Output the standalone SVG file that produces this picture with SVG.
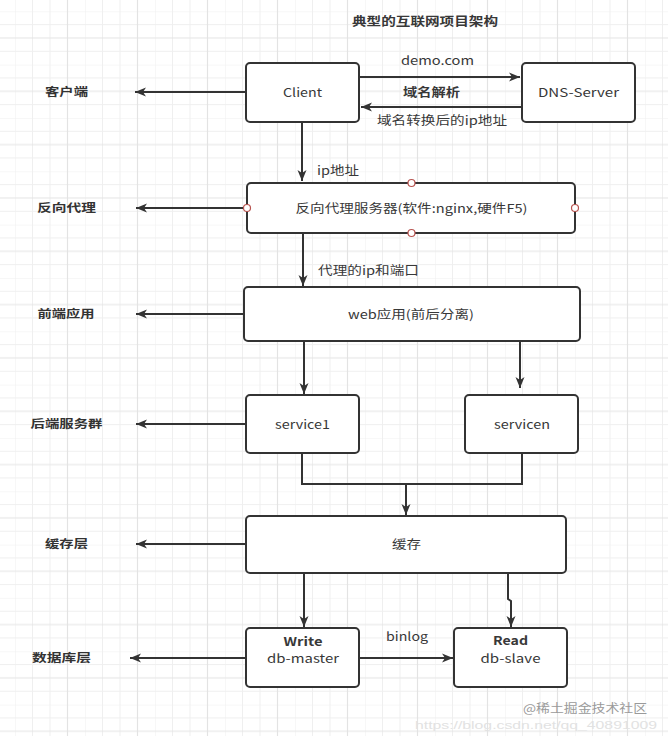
<svg xmlns="http://www.w3.org/2000/svg" width="668" height="736" viewBox="0 0 668 736">
<defs>
<pattern id="grid" patternUnits="userSpaceOnUse" width="70" height="53.33" patternTransform="translate(15,11.3)">
<path d="M0,0V53.33M17.5,0V53.33M35,0V53.33M0,0H70M0,13.33H70M0,40H70" stroke="#efefef" stroke-width="1" fill="none"/>
<path d="M52.5,0V53.33M0,26.67H70" stroke="#e3e3e3" stroke-width="1.2" fill="none"/>
</pattern>
<marker id="arr" markerUnits="userSpaceOnUse" markerWidth="12" markerHeight="10" refX="11" refY="5" orient="auto">
<path d="M0,0.5 L11,5 L0,9.5 L3,5 Z" fill="#333"/>
</marker>
<style>
.box{fill:#fff;stroke:#333;stroke-width:2}
.ln{fill:none;stroke:#333;stroke-width:2}
.t{font-family:"Noto Sans CJK SC","Liberation Sans",sans-serif;font-size:12px;fill:#383838;text-anchor:middle}
.b{font-weight:bold}
.lab{font-family:"Noto Sans CJK SC","Liberation Sans",sans-serif;font-size:11.5px;font-weight:bold;fill:#333;text-anchor:middle}
.pt{fill:#fff;stroke:#b85450;stroke-width:1.2}
</style>
</defs>
<rect width="668" height="736" fill="#fff"/>
<rect width="668" height="736" fill="url(#grid)"/>

<text class="t b" x="425" y="26" textLength="146" lengthAdjust="spacingAndGlyphs">典型的互联网项目架构</text>

<g id="connectors">
<path class="ln" marker-end="url(#arr)" d="M359,77 L520,77"/>
<path class="ln" marker-end="url(#arr)" d="M522,107 L361,107"/>
<path class="ln" marker-end="url(#arr)" d="M246,92 L135,92"/>
<path class="ln" marker-end="url(#arr)" d="M302,122 L302,181"/>
<path class="ln" marker-end="url(#arr)" d="M247,208 L136,208"/>
<path class="ln" marker-end="url(#arr)" d="M303,233 L303,286"/>
<path class="ln" marker-end="url(#arr)" d="M244,314 L136,314"/>
<path class="ln" marker-end="url(#arr)" d="M304,341 L304,394"/>
<path class="ln" marker-end="url(#arr)" d="M520,341 L520,388"/>
<path class="ln" marker-end="url(#arr)" d="M246,424 L136,424"/>
<path class="ln" d="M302,453 L302,484 L522,484 L522,453"/>
<path class="ln" marker-end="url(#arr)" d="M406,484 L406,515"/>
<path class="ln" marker-end="url(#arr)" d="M246,544 L136,544"/>
<path class="ln" marker-end="url(#arr)" d="M304,573 L304,627"/>
<path class="ln" marker-end="url(#arr)" d="M508,573 L508,599 L511,601 L511,627"/>
<path class="ln" marker-end="url(#arr)" d="M246,658 L130,658"/>
<path class="ln" marker-end="url(#arr)" d="M359,658 L453,658"/>
<text class="t" x="437.5" y="65" textLength="73" lengthAdjust="spacingAndGlyphs">demo.com</text>
<text class="t b" x="431.5" y="97" textLength="57" lengthAdjust="spacingAndGlyphs">域名解析</text>
<text class="t" x="442" y="125" textLength="130" lengthAdjust="spacingAndGlyphs">域名转换后的ip地址</text>
<text class="t" x="338" y="175" textLength="42" lengthAdjust="spacingAndGlyphs">ip地址</text>
<text class="t" x="368.5" y="275" textLength="101" lengthAdjust="spacingAndGlyphs">代理的ip和端口</text>
<text class="t" x="407" y="641" textLength="42" lengthAdjust="spacingAndGlyphs">binlog</text>
</g>

<g id="layer-labels">
<text class="lab" x="66.5" y="96" textLength="43" lengthAdjust="spacingAndGlyphs">客户端</text>
<text class="lab" x="66.5" y="212" textLength="59" lengthAdjust="spacingAndGlyphs">反向代理</text>
<text class="lab" x="66" y="318" textLength="57" lengthAdjust="spacingAndGlyphs">前端应用</text>
<text class="lab" x="66.5" y="428" textLength="72" lengthAdjust="spacingAndGlyphs">后端服务群</text>
<text class="lab" x="66.5" y="548" textLength="43" lengthAdjust="spacingAndGlyphs">缓存层</text>
<text class="lab" x="61.5" y="662" textLength="59" lengthAdjust="spacingAndGlyphs">数据库层</text>
</g>

<g id="client">
<rect class="box" x="246" y="63" width="113" height="59" rx="4"/>
<text class="t" x="302.5" y="97" textLength="39" lengthAdjust="spacingAndGlyphs">Client</text>
</g>
<g id="dns-server">
<rect class="box" x="522" y="63" width="113" height="59" rx="4"/>
<text class="t" x="578.5" y="97" textLength="81" lengthAdjust="spacingAndGlyphs">DNS-Server</text>
</g>
<g id="reverse-proxy">
<rect class="box" x="247" y="183" width="328" height="50" rx="4"/>
<text class="t" x="411.5" y="213" textLength="232" lengthAdjust="spacingAndGlyphs">反向代理服务器(软件:nginx,硬件F5)</text>
<circle class="pt" cx="247" cy="208" r="3.5"/>
<circle class="pt" cx="575" cy="208" r="3.5"/>
<circle class="pt" cx="411.5" cy="183" r="3.5"/>
<circle class="pt" cx="411.5" cy="233" r="3.5"/>
</g>
<g id="web-app">
<rect class="box" x="244" y="287" width="336" height="54" rx="4"/>
<text class="t" x="411" y="319" textLength="126" lengthAdjust="spacingAndGlyphs">web应用(前后分离)</text>
</g>
<g id="service1">
<rect class="box" x="246" y="395" width="113" height="58" rx="4"/>
<text class="t" x="302.5" y="429" textLength="55" lengthAdjust="spacingAndGlyphs">service1</text>
</g>
<g id="servicen">
<rect class="box" x="465" y="395" width="113" height="58" rx="4"/>
<text class="t" x="522" y="429" textLength="56" lengthAdjust="spacingAndGlyphs">servicen</text>
</g>
<g id="cache">
<rect class="box" x="246" y="516" width="320" height="57" rx="4"/>
<text class="t" x="406.5" y="549" textLength="29" lengthAdjust="spacingAndGlyphs">缓存</text>
</g>
<g id="db-master">
<rect class="box" x="246" y="628" width="113" height="59" rx="4"/>
<text class="t b" x="303" y="646" textLength="39" lengthAdjust="spacingAndGlyphs">Write</text>
<text class="t" x="303" y="663" textLength="72" lengthAdjust="spacingAndGlyphs">db-master</text>
</g>
<g id="db-slave">
<rect class="box" x="454" y="628" width="113" height="59" rx="4"/>
<text class="t b" x="510.5" y="645" textLength="35" lengthAdjust="spacingAndGlyphs">Read</text>
<text class="t" x="510.5" y="663" textLength="60" lengthAdjust="spacingAndGlyphs">db-slave</text>
</g>

<g id="watermark">
<text x="536" y="729" font-family="Liberation Sans, sans-serif" font-size="11" fill="#e2e2e2" text-anchor="middle" textLength="242" lengthAdjust="spacingAndGlyphs">https://blog.csdn.net/qq_40891009</text>
<text class="t" x="585" y="713" style="fill:#9a9a9a" textLength="124" lengthAdjust="spacingAndGlyphs">@稀土掘金技术社区</text>
</g>
</svg>
